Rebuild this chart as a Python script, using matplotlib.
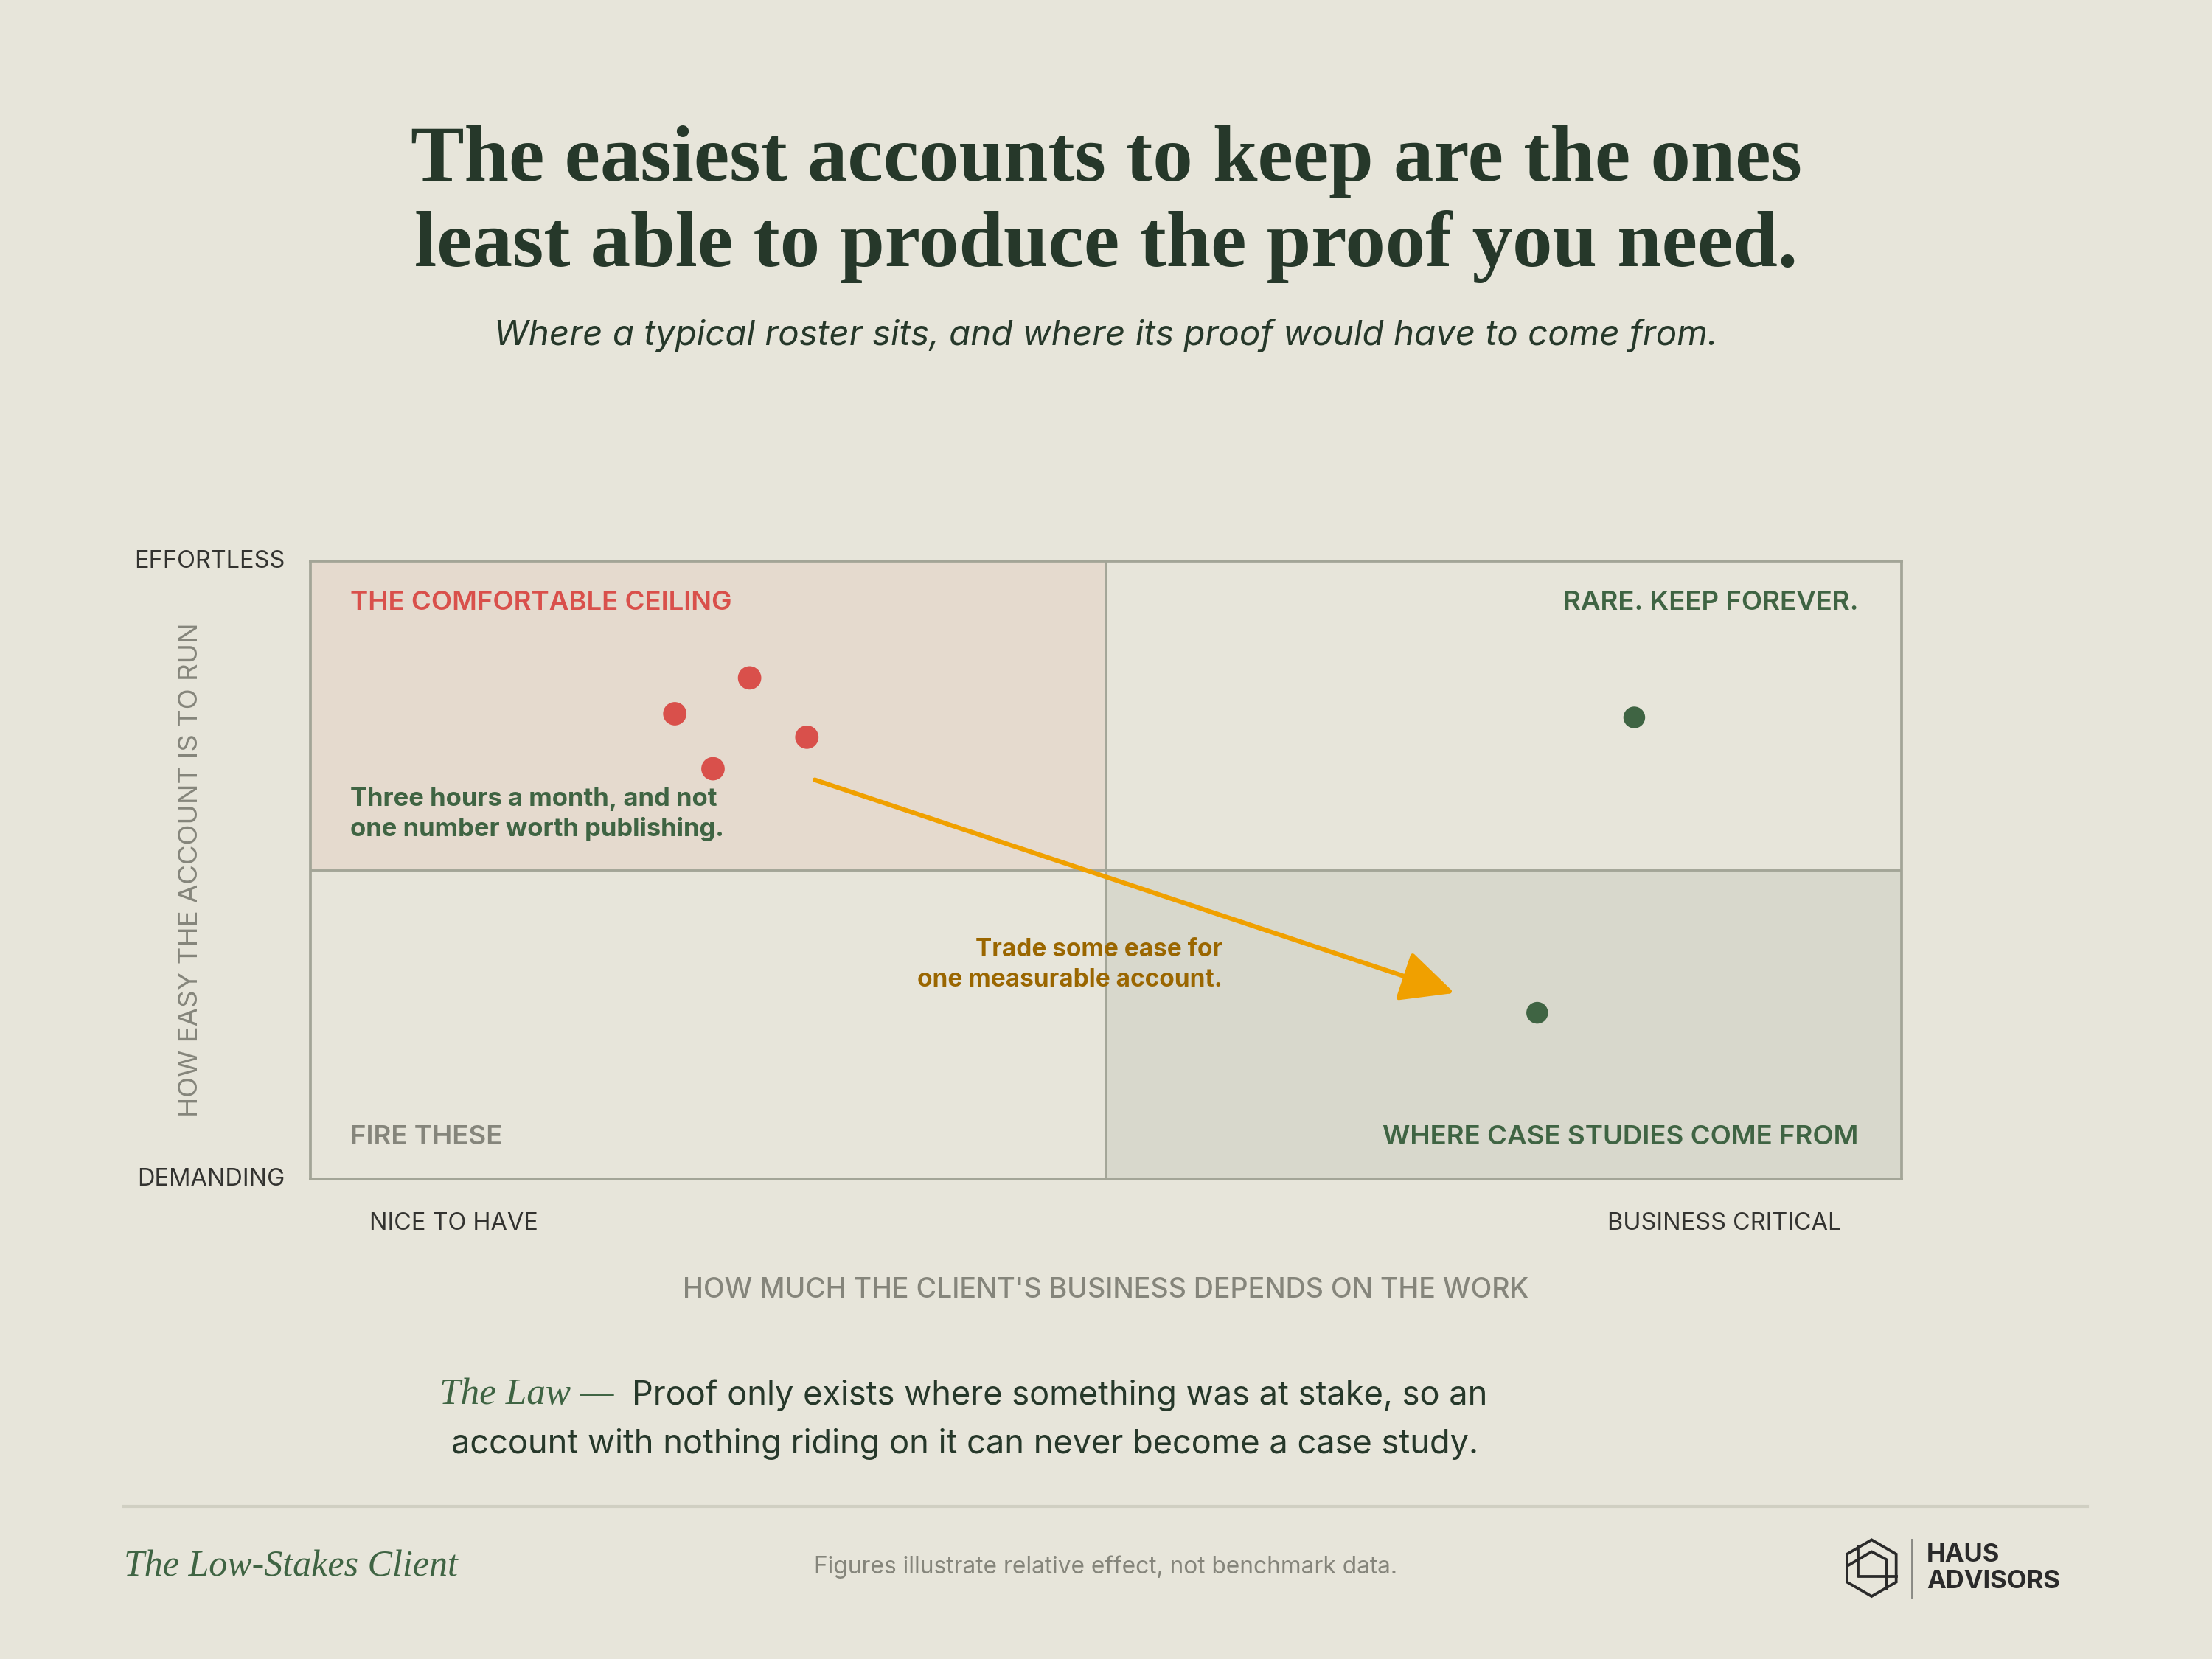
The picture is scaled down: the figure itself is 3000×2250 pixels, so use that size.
"""
Ease vs. business criticality quadrant
"""

import matplotlib
matplotlib.use("Agg")
import matplotlib.pyplot as plt
from matplotlib.patches import Rectangle, Polygon
from matplotlib.lines import Line2D

# data (0-100 on both axes, split at 50)
mid = 50
comfort_x = [22.9, 27.6, 31.2, 25.3]
comfort_y = [75.3, 81.1, 71.5, 66.4]
critical_x = [83.2, 77.1]
critical_y = [74.7, 26.9]
shift_from = (31.7, 64.6)
shift_to = (71.9, 30.1)

title = "The easiest accounts to keep are the ones\nleast able to produce the proof you need."
subtitle = "Where a typical roster sits, and where its proof would have to come from."
y_ends = ["EFFORTLESS", "DEMANDING"]
x_ends = ["NICE TO HAVE", "BUSINESS CRITICAL"]
y_label = "HOW EASY THE ACCOUNT IS TO RUN"
x_label = "HOW MUCH THE CLIENT'S BUSINESS DEPENDS ON THE WORK"
quad_labels = ["THE COMFORTABLE CEILING", "RARE. KEEP FOREVER.",
               "FIRE THESE", "WHERE CASE STUDIES COME FROM"]
note_comfort = "Three hours a month, and not\none number worth publishing."
note_shift = "Trade some ease for\none measurable account."
law_lead = "The Law —"
law_lines = ["Proof only exists where something was at stake, so an",
             "account with nothing riding on it can never become a case study."]
footer_left = "The Low-Stakes Client"
footer_mid = "Figures illustrate relative effect, not benchmark data."
logo_words = ["HAUS", "ADVISORS"]

# colours
bg = "#e7e5da"
ink = "#26382a"
green = "#3f6443"
red = "#d9504b"
pink = "#e5dace"
stone = "#d8d8cc"
frame = "#a3a597"
grey = "#85857b"
gold = "#f0a000"
gold_text = "#9a6600"
dark = "#333330"

SANS = ["Inter", "DejaVu Sans"]
SERIF = ["Liberation Serif", "DejaVu Serif"]

W, H = 3000, 2250
fig = plt.figure(figsize=(10, 7.5), dpi=300, facecolor=bg)


def fx(x):
    return x / W


def fy(y):
    return 1 - y / H


# title block
fig.text(fx(1500), fy(277), title, ha="center", va="center", family=SERIF,
         fontweight="bold", fontsize=26.1, color=ink, linespacing=1.23)
fig.text(fx(1500), fy(455), subtitle, ha="center", va="center", family=SANS,
         style="italic", fontsize=11.4, color=ink)

# plot area
ax = fig.add_axes([fx(421), fy(1599), (2579 - 421) / W, (1599 - 761) / H])
ax.set_xlim(0, 100)
ax.set_ylim(0, 100)
ax.set_facecolor(bg)
ax.add_patch(Rectangle((0, mid), mid, 100 - mid, facecolor=pink, edgecolor="none", zorder=0))
ax.add_patch(Rectangle((mid, 0), 100 - mid, mid, facecolor=stone, edgecolor="none", zorder=0))
ax.axvline(mid, color=frame, lw=0.7, zorder=1)
ax.axhline(mid, color=frame, lw=0.7, zorder=1)
for s in ax.spines.values():
    s.set_color(frame)
    s.set_linewidth(0.9)
ax.set_xticks([])
ax.set_yticks([])

ax.scatter(comfort_x, comfort_y, s=58, color=red, edgecolors="none", zorder=4)
ax.scatter(critical_x, critical_y, s=50, color=green, edgecolors="none", zorder=4)

ax.annotate("", xy=shift_to, xytext=shift_from,
            arrowprops=dict(arrowstyle="-|>,head_length=0.5,head_width=0.24",
                            color=gold, lw=1.5, mutation_scale=30,
                            shrinkA=0, shrinkB=0), zorder=3)

qkw = dict(family=SANS, fontsize=8.8, fontweight="semibold", va="center")
ax.text(2.5, 93.2, quad_labels[0], ha="left", color=red, **qkw)
ax.text(97.3, 93.2, quad_labels[1], ha="right", color=green, **qkw)
ax.text(2.5, 6.8, quad_labels[2], ha="left", color=grey, **qkw)
ax.text(97.3, 6.8, quad_labels[3], ha="right", color=green, **qkw)

ax.text(2.5, 59.0, note_comfort, ha="left", va="center", family=SANS,
        fontsize=8.3, fontweight="bold", color=green, linespacing=1.3)
ax.text(57.3, 34.7, note_shift, ha="right", va="center", family=SANS,
        fontsize=8.0, fontweight="bold", color=gold_text, linespacing=1.35,
        multialignment="right")

# axis end labels
ekw = dict(family=SANS, fontsize=7.8, color=dark, va="center")
fig.text(fx(386), fy(761), y_ends[0], ha="right", **ekw)
fig.text(fx(386), fy(1599), y_ends[1], ha="right", **ekw)
fig.text(fx(501), fy(1659), x_ends[0], ha="left", **ekw)
fig.text(fx(2497), fy(1659), x_ends[1], ha="right", **ekw)
fig.text(fx(258), fy(1180), y_label, ha="center", va="center", rotation=90,
         family=SANS, fontsize=8.8, color=grey)
fig.text(fx(1500), fy(1750), x_label, ha="center", va="center",
         family=SANS, fontsize=9.0, color=grey, fontweight="medium")

# the law
fig.text(fx(832), fy(1892), law_lead, ha="right", va="center", family=SERIF,
         style="italic", fontsize=12.3, color=green)
fig.text(fx(857), fy(1892), law_lines[0], ha="left", va="center", family=SANS,
         fontsize=10.85, color=ink)
fig.text(fx(1309), fy(1959), law_lines[1], ha="center", va="center", family=SANS,
         fontsize=10.85, color=ink)

# footer
fig.add_artist(Line2D([fx(168), fx(2831)], [fy(2043), fy(2043)], color="#d0cfc2", lw=1.0))
fig.text(fx(168), fy(2125), footer_left, ha="left", va="center", family=SERIF,
         style="italic", fontsize=12.0, color=green)
fig.text(fx(1500), fy(2125), footer_mid, ha="center", va="center", family=SANS,
         fontsize=7.6, color=grey)

# logo: hexagon with a house inside
def z(zx, zy):
    return fx(2450 + zx / 3), fy(2060 + zy / 3)


hexagon = [z(265, 85), z(365, 143), z(365, 257), z(265, 315), z(165, 257), z(165, 143)]
fig.add_artist(Polygon(hexagon, closed=True, fill=False, edgecolor="#2a2a2a", lw=0.9))
house = [[z(210, 112), z(210, 235), z(365, 235)],
         [z(172, 188), z(265, 133), z(325, 165), z(325, 285)]]
for pts in house:
    xs, ys = zip(*pts)
    fig.add_artist(Line2D(xs, ys, color="#2a2a2a", lw=0.9))
fig.add_artist(Line2D([fx(2593), fx(2593)], [fy(2088), fy(2166)], color="#8a8a84", lw=0.7))
fig.text(fx(2613), fy(2109), logo_words[0], ha="left", va="center", family=SANS,
         fontsize=8.3, fontweight="bold", color="#2a2a2a")
fig.text(fx(2613), fy(2145), logo_words[1], ha="left", va="center", family=SANS,
         fontsize=8.3, fontweight="bold", color="#2a2a2a")

fig.savefig("out.png", dpi=300, facecolor=bg)
